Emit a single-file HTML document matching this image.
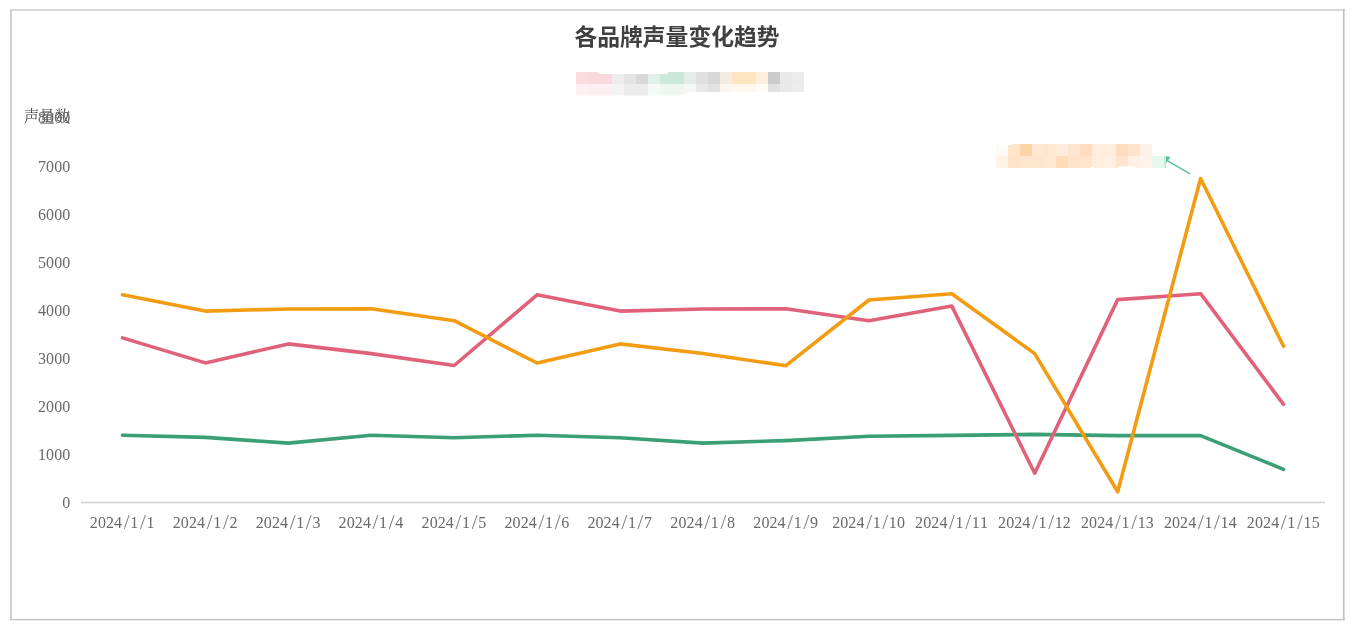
<!DOCTYPE html>
<html lang="zh-CN"><head><meta charset="utf-8"><title>各品牌声量变化趋势</title>
<style>html,body{margin:0;padding:0;background:#fff}body{width:1357px;height:631px;overflow:hidden;position:relative}svg{position:absolute;left:0;top:0;display:block;will-change:transform}.sl{font-size:21px;fill:#7c7c7c}</style></head><body>
<svg width="1357" height="631" viewBox="0 0 1357 631">
<rect width="1357" height="631" fill="#fff"/>
<g id="frame">
<rect x="10" y="9" width="1334.5" height="2" fill="#d8d8d8"/>
<rect x="10" y="9" width="2" height="611.3" fill="#d0d0d0"/>
<rect x="1342.9" y="9" width="1.7" height="611.3" fill="#c2c2c2"/>
<rect x="10" y="618.9" width="1334.6" height="1.4" fill="#c4c4c4"/>
</g>
<text x="677" y="45" text-anchor="middle" font-family='"Liberation Sans","Noto Sans CJK SC",sans-serif' font-weight="700" font-size="22.8" fill="#404040">各品牌声量变化趋势</text>
<defs><clipPath id="lc"><path d="M576 72H597L600 74H666.5L669 72H804V91.9H690L678.8 95.6H576Z"/></clipPath><clipPath id="nc"><path d="M996 144H997.4L1003.4 148.3L1008 145.2H1012V144H1152V156H1166V168H1136L1134 166.5L1119 166.3L1116.5 168H1094.5L1092.5 166.2L1088.5 168H996Z"/></clipPath></defs>
<g id="legend" clip-path="url(#lc)">
<rect x="576" y="72" width="12" height="12" fill="#f9dbe0"/>
<rect x="588" y="72" width="12" height="12" fill="#f9d9de"/>
<rect x="600" y="72" width="12" height="12" fill="#f9d9de"/>
<rect x="612" y="72" width="12" height="12" fill="#ededed"/>
<rect x="624" y="72" width="12" height="12" fill="#e4e4e4"/>
<rect x="636" y="72" width="12" height="12" fill="#d8d8d8"/>
<rect x="648" y="72" width="12" height="12" fill="#e0f1e9"/>
<rect x="660" y="72" width="12" height="12" fill="#cde8dc"/>
<rect x="672" y="72" width="12" height="12" fill="#cbe7da"/>
<rect x="684" y="72" width="12" height="12" fill="#e4eee9"/>
<rect x="696" y="72" width="12" height="12" fill="#e0e0e0"/>
<rect x="708" y="72" width="12" height="12" fill="#d8d8d8"/>
<rect x="720" y="72" width="12" height="12" fill="#f5ecdf"/>
<rect x="732" y="72" width="12" height="12" fill="#fee5c2"/>
<rect x="744" y="72" width="12" height="12" fill="#fee5c2"/>
<rect x="756" y="72" width="12" height="12" fill="#feefdc"/>
<rect x="768" y="72" width="12" height="12" fill="#cccccc"/>
<rect x="780" y="72" width="12" height="12" fill="#e9e9e9"/>
<rect x="792" y="72" width="12" height="12" fill="#ebebeb"/>
<rect x="576" y="84" width="12" height="12" fill="#fdf1f3"/>
<rect x="588" y="84" width="12" height="12" fill="#fdf0f2"/>
<rect x="600" y="84" width="12" height="12" fill="#fdf0f2"/>
<rect x="612" y="84" width="12" height="12" fill="#f3f3f3"/>
<rect x="624" y="84" width="12" height="12" fill="#ececec"/>
<rect x="636" y="84" width="12" height="12" fill="#ececec"/>
<rect x="648" y="84" width="12" height="12" fill="#f5faf7"/>
<rect x="660" y="84" width="12" height="12" fill="#eef7f2"/>
<rect x="672" y="84" width="12" height="12" fill="#eef7f2"/>
<rect x="684" y="84" width="12" height="12" fill="#f4f8f6"/>
<rect x="696" y="84" width="12" height="12" fill="#e8e8e8"/>
<rect x="708" y="84" width="12" height="12" fill="#e2e2e2"/>
<rect x="720" y="84" width="12" height="12" fill="#faf7f3"/>
<rect x="732" y="84" width="12" height="12" fill="#fff8ed"/>
<rect x="744" y="84" width="12" height="12" fill="#fff8ed"/>
<rect x="756" y="84" width="12" height="12" fill="#fffcf5"/>
<rect x="768" y="84" width="12" height="12" fill="#e1e1e1"/>
<rect x="780" y="84" width="12" height="12" fill="#eaeaea"/>
<rect x="792" y="84" width="12" height="12" fill="#ededed"/>
</g>
<g id="note" clip-path="url(#nc)">
<rect x="996" y="144" width="12" height="12" fill="#fffaf5"/>
<rect x="1008" y="144" width="12" height="12" fill="#fee5cb"/>
<rect x="1020" y="144" width="12" height="12" fill="#fdd4a5"/>
<rect x="1032" y="144" width="12" height="12" fill="#fee8d4"/>
<rect x="1044" y="144" width="12" height="12" fill="#fee6cf"/>
<rect x="1056" y="144" width="12" height="12" fill="#feebdb"/>
<rect x="1068" y="144" width="12" height="12" fill="#fee5cd"/>
<rect x="1080" y="144" width="12" height="12" fill="#fedcbd"/>
<rect x="1092" y="144" width="12" height="12" fill="#feeddf"/>
<rect x="1104" y="144" width="12" height="12" fill="#feecdc"/>
<rect x="1116" y="144" width="12" height="12" fill="#fedcbc"/>
<rect x="1128" y="144" width="12" height="12" fill="#fee4cc"/>
<rect x="1140" y="144" width="12" height="12" fill="#fff1e6"/>
<rect x="996" y="156" width="12" height="12" fill="#fff3e6"/>
<rect x="1008" y="156" width="12" height="12" fill="#fee3c8"/>
<rect x="1020" y="156" width="12" height="12" fill="#fee6cd"/>
<rect x="1032" y="156" width="12" height="12" fill="#fee6cd"/>
<rect x="1044" y="156" width="12" height="12" fill="#fee8d2"/>
<rect x="1056" y="156" width="12" height="12" fill="#fedcb8"/>
<rect x="1068" y="156" width="12" height="12" fill="#fee3ca"/>
<rect x="1080" y="156" width="12" height="12" fill="#fee5cc"/>
<rect x="1092" y="156" width="12" height="12" fill="#feecdc"/>
<rect x="1104" y="156" width="12" height="12" fill="#fff0e2"/>
<rect x="1116" y="156" width="12" height="12" fill="#fee4ca"/>
<rect x="1128" y="156" width="12" height="12" fill="#fff0e5"/>
<rect x="1140" y="156" width="12" height="12" fill="#fff2e8"/>
<rect x="1152" y="156" width="12" height="12" fill="#e6f6ee"/>
<rect x="1164" y="156" width="2" height="12" fill="#c5e9d8"/>
</g>
<g id="arrow" stroke="#58c197" fill="#4fbd90"><line x1="1190.1" y1="173.9" x2="1167.6" y2="160.8" stroke-width="1.5"/><path d="M1166 156.3 L1170.4 157 L1166.2 163.2 Z" stroke="none"/></g>
<rect x="81.0" y="501" width="1244.0" height="3" fill="#f1f1f1"/><rect x="81.0" y="502" width="1244.0" height="1" fill="#d3d3d3"/>
<polyline points="122.5,435.2 205.4,437.4 288.3,443.1 371.3,435.2 454.2,437.7 537.1,435.2 620.1,437.7 703.0,443.1 785.9,440.6 868.9,436.3 951.8,435.4 1034.7,434.4 1117.7,435.6 1200.6,435.6 1283.5,469.3" fill="none" stroke="#3a9f75" stroke-width="3.6" stroke-linejoin="round" stroke-linecap="round"/>
<polyline points="122.5,337.9 205.4,362.9 288.3,343.9 371.3,353.6 454.2,365.5 537.1,294.8 620.1,311.1 703.0,309.0 785.9,308.8 868.9,320.7 951.8,306.1 1034.7,473.2 1117.7,299.6 1200.6,293.7 1283.5,404.4" fill="none" stroke="#e0627a" stroke-width="3.6" stroke-linejoin="round" stroke-linecap="round"/>
<polyline points="122.5,294.8 205.4,311.1 288.3,309.0 371.3,308.7 454.2,320.7 537.1,363.0 620.1,343.9 703.0,353.5 785.9,365.7 868.9,300.0 951.8,293.8 1034.7,353.6 1117.7,491.8 1200.6,178.5 1283.5,346.3" fill="none" stroke="#f39c12" stroke-width="3.6" stroke-linejoin="round" stroke-linecap="round"/>
<g font-family='"Liberation Serif","Noto Serif CJK SC",serif' font-size="16" fill="#696969">
<text x="23.7" y="121.8" font-size="15.5" font-weight="300" fill="#3a3a3a">声量数</text>
<text text-anchor="middle"><tspan x="66.25" y="507.8">0</tspan></text>
<text text-anchor="middle"><tspan x="41.95 50.05 58.15 66.25" y="459.7">1000</tspan></text>
<text text-anchor="middle"><tspan x="41.95 50.05 58.15 66.25" y="411.7">2000</tspan></text>
<text text-anchor="middle"><tspan x="41.95 50.05 58.15 66.25" y="363.6">3000</tspan></text>
<text text-anchor="middle"><tspan x="41.95 50.05 58.15 66.25" y="315.6">4000</tspan></text>
<text text-anchor="middle"><tspan x="41.95 50.05 58.15 66.25" y="267.5">5000</tspan></text>
<text text-anchor="middle"><tspan x="41.95 50.05 58.15 66.25" y="219.5">6000</tspan></text>
<text text-anchor="middle"><tspan x="41.95 50.05 58.15 66.25" y="171.5">7000</tspan></text>
<text text-anchor="middle"><tspan x="41.95 50.05 58.15 66.25" y="123.4">8000</tspan></text>
<text text-anchor="middle"><tspan x="93.82 101.92 110.02 118.12" y="528.2">2024</tspan><tspan class="sl" x="126.72" y="529.1">/</tspan><tspan x="134.32" y="528.2">1</tspan><tspan class="sl" x="142.92" y="529.1">/</tspan><tspan x="150.52" y="528.2">1</tspan></text>
<text text-anchor="middle"><tspan x="176.75 184.85 192.95 201.05" y="528.2">2024</tspan><tspan class="sl" x="209.65" y="529.1">/</tspan><tspan x="217.25" y="528.2">1</tspan><tspan class="sl" x="225.85" y="529.1">/</tspan><tspan x="233.45" y="528.2">2</tspan></text>
<text text-anchor="middle"><tspan x="259.68 267.78 275.88 283.98" y="528.2">2024</tspan><tspan class="sl" x="292.58" y="529.1">/</tspan><tspan x="300.18" y="528.2">1</tspan><tspan class="sl" x="308.78" y="529.1">/</tspan><tspan x="316.38" y="528.2">3</tspan></text>
<text text-anchor="middle"><tspan x="342.62 350.72 358.82 366.92" y="528.2">2024</tspan><tspan class="sl" x="375.52" y="529.1">/</tspan><tspan x="383.12" y="528.2">1</tspan><tspan class="sl" x="391.72" y="529.1">/</tspan><tspan x="399.32" y="528.2">4</tspan></text>
<text text-anchor="middle"><tspan x="425.55 433.65 441.75 449.85" y="528.2">2024</tspan><tspan class="sl" x="458.45" y="529.1">/</tspan><tspan x="466.05" y="528.2">1</tspan><tspan class="sl" x="474.65" y="529.1">/</tspan><tspan x="482.25" y="528.2">5</tspan></text>
<text text-anchor="middle"><tspan x="508.48 516.58 524.68 532.78" y="528.2">2024</tspan><tspan class="sl" x="541.38" y="529.1">/</tspan><tspan x="548.98" y="528.2">1</tspan><tspan class="sl" x="557.58" y="529.1">/</tspan><tspan x="565.18" y="528.2">6</tspan></text>
<text text-anchor="middle"><tspan x="591.42 599.52 607.62 615.72" y="528.2">2024</tspan><tspan class="sl" x="624.32" y="529.1">/</tspan><tspan x="631.92" y="528.2">1</tspan><tspan class="sl" x="640.52" y="529.1">/</tspan><tspan x="648.12" y="528.2">7</tspan></text>
<text text-anchor="middle"><tspan x="674.35 682.45 690.55 698.65" y="528.2">2024</tspan><tspan class="sl" x="707.25" y="529.1">/</tspan><tspan x="714.85" y="528.2">1</tspan><tspan class="sl" x="723.45" y="529.1">/</tspan><tspan x="731.05" y="528.2">8</tspan></text>
<text text-anchor="middle"><tspan x="757.28 765.38 773.48 781.58" y="528.2">2024</tspan><tspan class="sl" x="790.18" y="529.1">/</tspan><tspan x="797.78" y="528.2">1</tspan><tspan class="sl" x="806.38" y="529.1">/</tspan><tspan x="813.98" y="528.2">9</tspan></text>
<text text-anchor="middle"><tspan x="836.17 844.27 852.37 860.47" y="528.2">2024</tspan><tspan class="sl" x="869.07" y="529.1">/</tspan><tspan x="876.67" y="528.2">1</tspan><tspan class="sl" x="885.27" y="529.1">/</tspan><tspan x="892.87 900.97" y="528.2">10</tspan></text>
<text text-anchor="middle"><tspan x="919.10 927.20 935.30 943.40" y="528.2">2024</tspan><tspan class="sl" x="952.00" y="529.1">/</tspan><tspan x="959.60" y="528.2">1</tspan><tspan class="sl" x="968.20" y="529.1">/</tspan><tspan x="975.80 983.90" y="528.2">11</tspan></text>
<text text-anchor="middle"><tspan x="1002.03 1010.13 1018.23 1026.33" y="528.2">2024</tspan><tspan class="sl" x="1034.93" y="529.1">/</tspan><tspan x="1042.53" y="528.2">1</tspan><tspan class="sl" x="1051.13" y="529.1">/</tspan><tspan x="1058.73 1066.83" y="528.2">12</tspan></text>
<text text-anchor="middle"><tspan x="1084.97 1093.07 1101.17 1109.27" y="528.2">2024</tspan><tspan class="sl" x="1117.87" y="529.1">/</tspan><tspan x="1125.47" y="528.2">1</tspan><tspan class="sl" x="1134.07" y="529.1">/</tspan><tspan x="1141.67 1149.77" y="528.2">13</tspan></text>
<text text-anchor="middle"><tspan x="1167.90 1176.00 1184.10 1192.20" y="528.2">2024</tspan><tspan class="sl" x="1200.80" y="529.1">/</tspan><tspan x="1208.40" y="528.2">1</tspan><tspan class="sl" x="1217.00" y="529.1">/</tspan><tspan x="1224.60 1232.70" y="528.2">14</tspan></text>
<text text-anchor="middle"><tspan x="1250.83 1258.93 1267.03 1275.13" y="528.2">2024</tspan><tspan class="sl" x="1283.73" y="529.1">/</tspan><tspan x="1291.33" y="528.2">1</tspan><tspan class="sl" x="1299.93" y="529.1">/</tspan><tspan x="1307.53 1315.63" y="528.2">15</tspan></text>
</g>
</svg></body></html>
